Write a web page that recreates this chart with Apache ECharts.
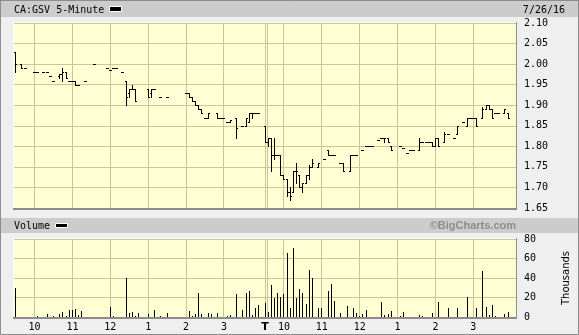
<!DOCTYPE html>
<html><head><meta charset="utf-8">
<script src="https://cdn.jsdelivr.net/npm/echarts@6/dist/echarts.min.js"></script>
<style>html,body{margin:0;padding:0;background:#efefef}#c{width:579px;height:335px}</style>
</head><body><div id="c"></div>
<script>
// 5-minute slots counted from day-1 open (9:30); day 2 opens at slot 79
const priceSlots = [0,2,3,6,7,9,10,11,12,14,15,16,17,18,19,20,22,25,29,30,31,32,34,35,36,37,38,42,43,44,46,48,54,55,56,57,58,59,60,61,64,65,66,67,68,70,72,73,74,75,76,77,
  79,80,81,82,83,84,85,86,87,88,89,90,91,92,93,94,96,98,99,100,101,103,104,106,107,108,110,111,112,113,115,116,117,118,119,122,123,124,125,126,128,129,130,131,132,133,134,136,137,139,140,142,143,144,145,146,148,149,150,151,152,153,155,156];
const priceOpen = [2.03,2.00,1.99,1.98,1.98,1.98,1.98,1.97,1.96,1.97,1.975,1.98,1.96,1.96,1.96,1.95,1.96,2.00,1.99,1.985,1.99,1.99,1.98,1.96,1.93,1.94,1.94,1.94,1.93,1.94,1.92,1.92,1.93,1.93,1.92,1.91,1.90,1.89,1.87,1.87,1.88,1.87,1.87,1.86,1.86,1.87,1.85,1.85,1.86,1.88,1.88,1.88,
  1.85,1.81,1.82,1.78,1.78,1.78,1.73,1.72,1.69,1.69,1.74,1.73,1.70,1.71,1.73,1.75,1.75,1.77,1.79,1.78,1.78,1.76,1.76,1.74,1.78,1.78,1.79,1.80,1.80,1.80,1.815,1.82,1.82,1.82,1.80,1.80,1.795,1.785,1.79,1.79,1.79,1.81,1.81,1.81,1.81,1.80,1.82,1.81,1.83,1.82,1.83,1.86,1.85,1.87,1.87,1.87,1.87,1.89,1.90,1.89,1.88,1.88,1.88,1.88];
const priceHigh = [2.03,2.00,1.99,1.98,1.98,1.98,1.98,1.97,1.96,1.975,1.99,1.98,1.96,1.96,1.96,1.95,1.96,2.00,1.99,1.985,1.99,1.99,1.98,1.96,1.94,1.95,1.94,1.94,1.94,1.94,1.92,1.92,1.93,1.93,1.92,1.91,1.90,1.89,1.87,1.88,1.88,1.87,1.87,1.86,1.865,1.87,1.85,1.87,1.88,1.88,1.88,1.88,
  1.85,1.82,1.82,1.82,1.78,1.78,1.73,1.72,1.70,1.74,1.76,1.73,1.71,1.73,1.755,1.77,1.76,1.77,1.79,1.78,1.78,1.76,1.76,1.78,1.78,1.78,1.79,1.80,1.80,1.80,1.815,1.82,1.82,1.82,1.80,1.80,1.795,1.785,1.79,1.79,1.82,1.81,1.81,1.81,1.81,1.82,1.82,1.835,1.83,1.82,1.85,1.86,1.87,1.87,1.87,1.87,1.895,1.90,1.90,1.89,1.88,1.88,1.89,1.88];
const priceLow = [1.98,1.99,1.99,1.98,1.98,1.98,1.98,1.97,1.96,1.965,1.96,1.965,1.96,1.96,1.95,1.95,1.96,2.00,1.99,1.985,1.99,1.99,1.98,1.90,1.92,1.94,1.91,1.92,1.92,1.94,1.92,1.92,1.93,1.92,1.91,1.90,1.89,1.88,1.87,1.87,1.87,1.87,1.87,1.86,1.86,1.82,1.85,1.85,1.86,1.87,1.88,1.88,
  1.81,1.80,1.74,1.77,1.78,1.73,1.72,1.68,1.67,1.69,1.71,1.70,1.69,1.71,1.72,1.75,1.75,1.77,1.78,1.78,1.78,1.76,1.74,1.74,1.78,1.78,1.79,1.80,1.80,1.80,1.815,1.82,1.81,1.81,1.79,1.80,1.795,1.785,1.79,1.79,1.79,1.81,1.81,1.81,1.80,1.80,1.80,1.81,1.83,1.82,1.83,1.86,1.85,1.87,1.87,1.85,1.87,1.89,1.89,1.87,1.88,1.88,1.88,1.87];
const priceClose = [2.00,1.99,1.99,1.98,1.98,1.98,1.98,1.97,1.96,1.975,1.98,1.965,1.96,1.96,1.95,1.95,1.96,2.00,1.99,1.985,1.99,1.99,1.98,1.92,1.94,1.94,1.91,1.92,1.94,1.94,1.92,1.92,1.93,1.92,1.91,1.90,1.89,1.88,1.87,1.88,1.87,1.87,1.87,1.86,1.865,1.845,1.85,1.87,1.88,1.88,1.88,1.88,
  1.81,1.82,1.78,1.78,1.78,1.73,1.72,1.69,1.68,1.74,1.74,1.70,1.71,1.73,1.75,1.76,1.76,1.77,1.78,1.78,1.78,1.76,1.74,1.78,1.78,1.78,1.79,1.80,1.80,1.80,1.815,1.82,1.82,1.81,1.79,1.80,1.795,1.785,1.79,1.79,1.81,1.81,1.81,1.81,1.80,1.82,1.80,1.83,1.83,1.82,1.85,1.86,1.87,1.87,1.87,1.85,1.89,1.90,1.89,1.87,1.88,1.88,1.89,1.87];

// volume (thousands)
const volSlots = [0,7,10,12,14,15,16,17,18,19,20,21,30,31,35,36,37,38,39,42,44,46,48,55,56,57,58,59,61,62,64,67,68,70,72,73,74,75,76,77,
  79,80,81,82,83,84,85,86,87,88,89,90,91,92,93,94,96,97,99,100,101,103,105,107,108,109,110,111,116,117,118,119,122,123,128,129,132,134,137,140,143,146,148,149,150,151,152,155,156];
const volValues = [30,1,3,1,3,5,1.5,7,7,8,2,6,10,1,40,4,5,1,4.5,3,7.5,1,4,6,1,3,25,3,4.5,3,4.5,1,2,23.5,7.5,24.5,27,2,9,12,
  14,5.5,33,20,25,21,23.5,66,9,71,20,28.7,25,13,48,40,9,9,27,34,16,4.5,11,9,4.5,1,3,7,15.4,2,3,6,1,5,2,1,4,15,9,9,20.5,9,47,10,2,12.3,1,3,5];

const hourSlots = [6,18,30,42,54,66,85,97,109,121,133,145];
const sessionBreakSlot = 79;
const xLabelSlots = [6,18,30,42,54,66,79,85,97,109,121,133,145];
const xLabelTexts = ['10','11','12','1','2','3','T','10','11','12','1','2','3'];

const chart = echarts.init(document.getElementById('c'), null, {renderer:'canvas', width:579, height:335});

const pat = document.createElement('canvas'); pat.width = 2; pat.height = 2;
const pg = pat.getContext('2d');
pg.fillStyle = '#ffffc6'; pg.fillRect(0,0,2,2);
pg.fillStyle = '#ffffe2'; pg.fillRect(0,0,1,1); pg.fillRect(1,1,1,1);
const bgPattern = {image: pat, repeat: 'repeat'};

const MONO = '"DejaVu Sans Mono", monospace';
const GRIDC = '#c8c897';

const ohlc = priceSlots.map((s,i)=>[s, priceOpen[i], priceHigh[i], priceLow[i], priceClose[i]]);
const vol = volSlots.map((s,i)=>[s, volValues[i]]);
const vlines = hourSlots.map(s=>[s,0]).concat([[sessionBreakSlot,1]]);
const labelMap = {};
xLabelSlots.forEach((s,i)=>{ labelMap[Math.round(s*2)] = xLabelTexts[i]; });

function vlineRender(params, api) {
  const cs = params.coordSys;
  const x = Math.floor(api.coord([api.value(0), cs.y])[0]);
  const mk = (xx)=>({type:'rect', shape:{x:xx, y:cs.y, width:1, height:cs.height}, style:{fill:GRIDC}});
  if (api.value(1) === 1) return {type:'group', children:[mk(x), mk(x+2)]};
  return mk(x);
}

function ohlcRender(params, api) {
  const s = api.value(0);
  const pO = api.coord([s, api.value(1)]);
  const pH = api.coord([s, api.value(2)]);
  const pL = api.coord([s, api.value(3)]);
  const pC = api.coord([s, api.value(4)]);
  const x = Math.floor(pO[0]);
  const yH = Math.round(pH[1]), yL = Math.round(pL[1]);
  const yO = Math.round(pO[1]), yC = Math.round(pC[1]);
  return {type:'group', children:[
    {type:'rect', shape:{x:x, y:yH, width:1, height:Math.max(1, yL-yH+1)}, style:{fill:'#000'}},
    {type:'rect', shape:{x:x-1, y:yO, width:1, height:1}, style:{fill:'#000'}},
    {type:'rect', shape:{x:x+1, y:yC, width:1, height:1}, style:{fill:'#000'}}
  ]};
}

function volRender(params, api) {
  const s = api.value(0);
  const p0 = api.coord([s, 0]);
  const p1 = api.coord([s, api.value(1)]);
  const x = Math.floor(p0[0]);
  const y1 = Math.round(p1[1]), y0 = Math.round(p0[1]);
  return {type:'rect', shape:{x:x, y:y1, width:1, height:Math.max(1, y0-y1)}, style:{fill:'#000'}};
}

const option = {
  backgroundColor: '#efefef',
  animation: false,
  grid: [
    {left:14, top:23, width:502, height:185, show:true, backgroundColor:bgPattern, borderWidth:0, outerBoundsMode:'none'},
    {left:14, top:239, width:502, height:78, show:true, backgroundColor:bgPattern, borderWidth:0, outerBoundsMode:'none'}
  ],
  xAxis: [
    {type:'value', gridIndex:0, min:-0.5, max:158.5, show:false},
    {type:'value', gridIndex:1, min:-0.5, max:158.5, interval:0.5,
      axisLine:{show:false}, axisTick:{show:false}, splitLine:{show:false},
      axisLabel:{show:true, margin:5, color:'#000', fontFamily:MONO, fontSize:10, showMinLabel:true, showMaxLabel:true,
        formatter:(v)=>{ const t = labelMap[Math.round(v*2)]; if (!t) return ''; return t === 'T' ? '{t|T}' : t; },
        rich:{t:{fontWeight:'bold', fontSize:11, fontFamily:'"DejaVu Sans", sans-serif', color:'#000'}}}}
  ],
  yAxis: [
    {type:'value', gridIndex:0, position:'right', min:1.65, max:2.10, interval:0.05,
      axisLine:{show:false}, axisTick:{show:false},
      splitLine:{show:true, lineStyle:{color:GRIDC, width:1}},
      axisLabel:{margin:8, color:'#000', fontFamily:MONO, fontSize:10, formatter:(v)=>v.toFixed(2)}},
    {type:'value', gridIndex:1, position:'right', min:0, max:80, interval:20,
      name:'Thousands', nameLocation:'middle', nameRotate:90, nameGap:45,
      nameTextStyle:{color:'#000', fontFamily:'"DejaVu Sans", sans-serif', fontSize:10},
      axisLine:{show:false}, axisTick:{show:false},
      splitLine:{show:true, lineStyle:{color:GRIDC, width:1}},
      axisLabel:{margin:8, color:'#000', fontFamily:MONO, fontSize:10}}
  ],
  series: [
    {type:'custom', name:'grid1', xAxisIndex:0, yAxisIndex:0, data:vlines, renderItem:vlineRender, silent:true, z:1},
    {type:'custom', name:'grid2', xAxisIndex:1, yAxisIndex:1, data:vlines, renderItem:vlineRender, silent:true, z:1},
    {type:'custom', name:'CA:GSV', xAxisIndex:0, yAxisIndex:0, data:ohlc, renderItem:ohlcRender, silent:true, z:3, clip:true},
    {type:'custom', name:'Volume', xAxisIndex:1, yAxisIndex:1, data:vol, renderItem:volRender, silent:true, z:3}
  ],
  graphic: [
    {type:'rect', shape:{x:0, y:0, width:579, height:1}, style:{fill:'#9a9a9a'}, z:50},
    {type:'rect', shape:{x:1, y:1, width:577, height:16}, style:{fill:'#cccccc'}, z:-5},
    {type:'rect', shape:{x:1, y:218, width:577, height:15}, style:{fill:'#cccccc'}, z:-5},
    {type:'text', x:14, y:10, style:{text:'CA:GSV 5-Minute', font:'10px "DejaVu Sans Mono"', fill:'#000', verticalAlign:'middle'}, z:5},
    {type:'rect', shape:{x:109.5, y:6.5, width:12, height:5}, style:{fill:'#000', stroke:'#fff', lineWidth:1}, z:5},
    {type:'text', x:565, y:10, style:{text:'7/26/16', font:'10px "DejaVu Sans Mono"', fill:'#000', align:'right', verticalAlign:'middle'}, z:5},
    {type:'text', x:14, y:226, style:{text:'Volume', font:'10px "DejaVu Sans Mono"', fill:'#000', verticalAlign:'middle'}, z:5},
    {type:'rect', shape:{x:55.5, y:223.5, width:12, height:4}, style:{fill:'#000', stroke:'#fff', lineWidth:1}, z:5},
    {type:'text', x:516, y:226, style:{text:'\u00A9BigCharts.com', font:'bold 11px "Liberation Sans"', fill:'#8c8c8c', align:'right', verticalAlign:'middle'}, z:5},
    // plot frames
    {type:'rect', shape:{x:13, y:22, width:504, height:1}, style:{fill:'#ffffff'}, z:40},
    {type:'rect', shape:{x:13, y:22, width:1, height:187}, style:{fill:'#ffffff'}, z:40},
    {type:'rect', shape:{x:13, y:208, width:504, height:2}, style:{fill:'#8c8c8c'}, z:40},
    {type:'rect', shape:{x:516, y:22, width:1, height:188}, style:{fill:'#8c8c8c'}, z:40},
    {type:'rect', shape:{x:13, y:238, width:504, height:1}, style:{fill:'#ffffff'}, z:40},
    {type:'rect', shape:{x:13, y:238, width:1, height:80}, style:{fill:'#ffffff'}, z:40},
    {type:'rect', shape:{x:13, y:317, width:504, height:2}, style:{fill:'#8c8c8c'}, z:40},
    {type:'rect', shape:{x:516, y:238, width:1, height:81}, style:{fill:'#8c8c8c'}, z:40},
    // outer border
    {type:'rect', shape:{x:0.5, y:0.5, width:578, height:334}, style:{fill:null, stroke:'#8c8c8c', lineWidth:1}, z:50}
  ]
};
chart.setOption(option);
</script>
</body></html>
